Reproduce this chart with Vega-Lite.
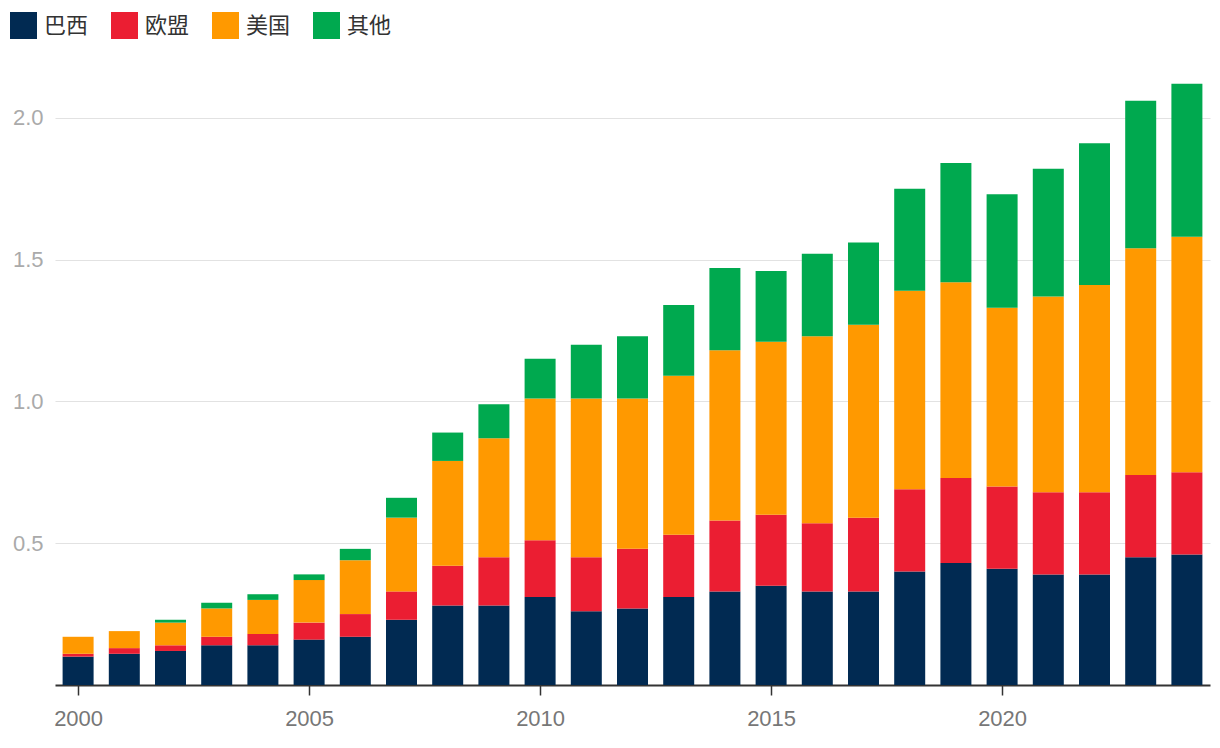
{
  "$schema": "https://vega.github.io/schema/vega-lite/v6.json",
  "width": 1155,
  "height": 624,
  "autosize": {"type": "none"},
  "padding": {"left": 55, "top": 61, "right": 10, "bottom": 63},
  "background": "white",
  "config": {
    "view": {"stroke": null},
    "font": "Liberation Sans, Noto Sans CJK SC, sans-serif"
  },
  "data": {
    "values": [
      {"year": 2000, "巴西": 0.10, "欧盟": 0.01, "美国": 0.06, "其他": 0.00},
      {"year": 2001, "巴西": 0.11, "欧盟": 0.02, "美国": 0.06, "其他": 0.00},
      {"year": 2002, "巴西": 0.12, "欧盟": 0.02, "美国": 0.08, "其他": 0.01},
      {"year": 2003, "巴西": 0.14, "欧盟": 0.03, "美国": 0.10, "其他": 0.02},
      {"year": 2004, "巴西": 0.14, "欧盟": 0.04, "美国": 0.12, "其他": 0.02},
      {"year": 2005, "巴西": 0.16, "欧盟": 0.06, "美国": 0.15, "其他": 0.02},
      {"year": 2006, "巴西": 0.17, "欧盟": 0.08, "美国": 0.19, "其他": 0.04},
      {"year": 2007, "巴西": 0.23, "欧盟": 0.10, "美国": 0.26, "其他": 0.07},
      {"year": 2008, "巴西": 0.28, "欧盟": 0.14, "美国": 0.37, "其他": 0.10},
      {"year": 2009, "巴西": 0.28, "欧盟": 0.17, "美国": 0.42, "其他": 0.12},
      {"year": 2010, "巴西": 0.31, "欧盟": 0.20, "美国": 0.50, "其他": 0.14},
      {"year": 2011, "巴西": 0.26, "欧盟": 0.19, "美国": 0.56, "其他": 0.19},
      {"year": 2012, "巴西": 0.27, "欧盟": 0.21, "美国": 0.53, "其他": 0.22},
      {"year": 2013, "巴西": 0.31, "欧盟": 0.22, "美国": 0.56, "其他": 0.25},
      {"year": 2014, "巴西": 0.33, "欧盟": 0.25, "美国": 0.60, "其他": 0.29},
      {"year": 2015, "巴西": 0.35, "欧盟": 0.25, "美国": 0.61, "其他": 0.25},
      {"year": 2016, "巴西": 0.33, "欧盟": 0.24, "美国": 0.66, "其他": 0.29},
      {"year": 2017, "巴西": 0.33, "欧盟": 0.26, "美国": 0.68, "其他": 0.29},
      {"year": 2018, "巴西": 0.40, "欧盟": 0.29, "美国": 0.70, "其他": 0.36},
      {"year": 2019, "巴西": 0.43, "欧盟": 0.30, "美国": 0.69, "其他": 0.42},
      {"year": 2020, "巴西": 0.41, "欧盟": 0.29, "美国": 0.63, "其他": 0.40},
      {"year": 2021, "巴西": 0.39, "欧盟": 0.29, "美国": 0.69, "其他": 0.45},
      {"year": 2022, "巴西": 0.39, "欧盟": 0.29, "美国": 0.73, "其他": 0.50},
      {"year": 2023, "巴西": 0.45, "欧盟": 0.29, "美国": 0.80, "其他": 0.52},
      {"year": 2024, "巴西": 0.46, "欧盟": 0.29, "美国": 0.83, "其他": 0.54}
    ]
  },
  "transform": [
    {"fold": ["巴西", "欧盟", "美国", "其他"], "as": ["region", "value"]},
    {"window": [{"op": "row_number", "as": "k"}], "groupby": ["year"]}
  ],
  "mark": {"type": "bar", "size": 31},
  "encoding": {
    "x": {
      "field": "year",
      "type": "quantitative",
      "scale": {"domain": [1999.5, 2024.5], "nice": false, "zero": false, "padding": 0},
      "axis": {
        "title": null,
        "values": [2000, 2005, 2010, 2015, 2020],
        "format": "d",
        "grid": false,
        "domainColor": "#333333",
        "domainWidth": 2,
        "tickColor": "#333333",
        "tickSize": 10,
        "tickWidth": 1.5,
        "labelPadding": 13,
        "labelFontSize": 22,
        "labelColor": "#777777",
        "labelFont": "Liberation Sans"
      }
    },
    "y": {
      "field": "value",
      "type": "quantitative",
      "stack": "zero",
      "scale": {"domain": [0, 2.2], "nice": false},
      "axis": {
        "title": null,
        "values": [0.5, 1.0, 1.5, 2.0],
        "format": ".1f",
        "domain": false,
        "ticks": false,
        "grid": true,
        "gridColor": "#e2e2e2",
        "gridWidth": 1.2,
        "labelPadding": 12,
        "labelFontSize": 22,
        "labelColor": "#aaaaaa",
        "labelFont": "Liberation Sans"
      }
    },
    "color": {
      "field": "region",
      "type": "nominal",
      "sort": ["巴西", "欧盟", "美国", "其他"],
      "scale": {
        "domain": ["巴西", "欧盟", "美国", "其他"],
        "range": ["#012A52", "#EB1E32", "#FF9900", "#00A94F"]
      },
      "legend": {
        "title": null,
        "orient": "none",
        "direction": "horizontal",
        "legendX": -45,
        "legendY": -49,
        "symbolType": "square",
        "symbolSize": 729,
        "symbolStrokeWidth": 0,
        "symbolOpacity": 1,
        "labelFontSize": 22,
        "labelColor": "#333333",
        "labelFont": "Noto Sans CJK SC",
        "labelOffset": 7,
        "columnPadding": 22
      }
    },
    "order": {"field": "k", "type": "quantitative", "sort": "ascending"}
  }
}
